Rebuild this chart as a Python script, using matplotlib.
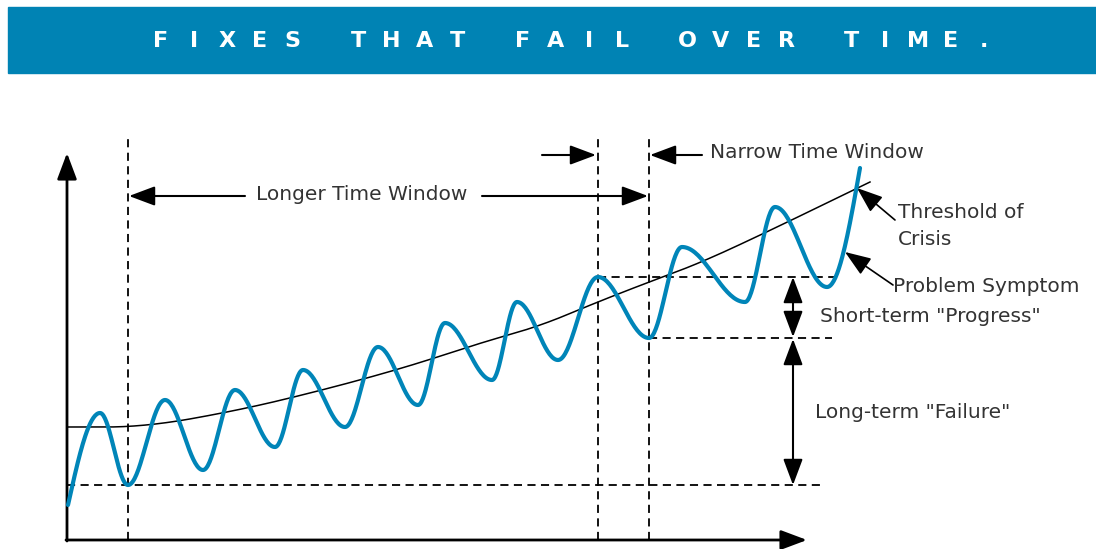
import numpy as np
import matplotlib
matplotlib.use("Agg")
import matplotlib.pyplot as plt
from matplotlib.patches import Rectangle

# ---------------- data (time, level) ----------------
title = "FIXES THAT FAIL OVER TIME."

# extrema of the "Problem Symptom" curve
wave_time = [1, 33, 61, 98, 136, 168, 208, 236, 278, 311, 351, 378, 425,
             450, 491, 531, 582, 615, 678, 708, 760, 793]
wave_level = [35, 127, 55, 140, 70, 150, 93, 170, 113, 193, 135, 217, 160,
              238, 180, 263, 202, 293, 238, 333, 253, 372]

# "Threshold of Crisis" curve
threshold_time = [0, 78, 173, 256, 340, 413, 473, 528, 582, 633, 700, 803]
threshold_level = [113, 113, 130, 150, 173, 197, 214, 237, 258, 277, 308, 358]

labels = {
    "longer": "Longer Time Window",
    "narrow": "Narrow Time Window",
    "threshold": "Threshold of\nCrisis",
    "symptom": "Problem Symptom",
    "progress": "Short-term \"Progress\"",
    "failure": "Long-term \"Failure\"",
}

BLUE = "#0085B8"
BANNER = "#0083B4"
TXT = "#333333"


def smooth_wave(t, y, n=40):
    xs, ys = [], []
    last = len(t) - 2
    for i in range(len(t) - 1):
        s = np.linspace(0, 1, n)
        if i == 0:
            w = np.sin(s * np.pi / 2)
        elif i == last:
            w = 1 - np.cos(s * np.pi / 2)
        else:
            w = (1 - np.cos(s * np.pi)) / 2
        xs.append(t[i] + (t[i + 1] - t[i]) * s)
        ys.append(y[i] + (y[i + 1] - y[i]) * w)
    return np.concatenate(xs), np.concatenate(ys)


def chaikin(x, y, iters=4):
    p = np.column_stack([x, y]).astype(float)
    for _ in range(iters):
        q = 0.75 * p[:-1] + 0.25 * p[1:]
        r = 0.25 * p[:-1] + 0.75 * p[1:]
        mid = np.empty((2 * len(q), 2))
        mid[0::2] = q
        mid[1::2] = r
        p = np.vstack([p[:1], mid, p[-1:]])
    return p[:, 0], p[:, 1]


fig = plt.figure(figsize=(10.96, 5.49), dpi=100)
ax = fig.add_axes([0, 0, 1, 1])
ax.set_xlim(-67, 1029)
ax.set_ylim(-9, 540)
ax.axis("off")

# banner + title
fig.patches.append(Rectangle((8 / 1096, 1 - 73 / 549), 1, 66 / 549,
                             transform=fig.transFigure, color=BANNER, zorder=0))
for i, ch in enumerate(title):
    fig.text((161 + 32.9 * i) / 1096, 1 - 41 / 549, ch, ha="center", va="center",
             color="white", fontsize=16, fontweight="heavy", family="DejaVu Sans")

head = "-|>,head_length=0.8,head_width=0.3"
head2 = "<|-|>,head_length=0.8,head_width=0.3"


def arrow(tail, tip, style=head, lw=1.5, ms=20):
    ax.annotate("", xy=tip, xytext=tail,
                arrowprops=dict(arrowstyle=style, mutation_scale=ms, lw=lw,
                                color="black", shrinkA=0, shrinkB=0))


# axes
arrow((0, -1), (0, 387), lw=2)
arrow((-1, 0), (740, 0), lw=2)

# curves
tx, ty = smooth_wave(wave_time, wave_level)
hx, hy = chaikin(threshold_time, threshold_level)
ax.plot(hx, hy, color="black", lw=1.1, zorder=3)
ax.plot(tx, ty, color=BLUE, lw=3, zorder=4, solid_capstyle="round")

# reference dashed lines
dash = dict(color="black", lw=1.3, ls=(0, (4.5, 3)), zorder=2)
t_first_trough, lvl_first_trough = wave_time[2], wave_level[2]
t_peak, lvl_peak = wave_time[15], wave_level[15]
t_trough, lvl_trough = wave_time[16], wave_level[16]
for tv in (t_first_trough, t_peak, t_trough):
    ax.plot([tv, tv], [0, 403], **dash)
ax.plot([0, 756], [lvl_first_trough] * 2, **dash)
ax.plot([t_peak, 771], [lvl_peak] * 2, **dash)
ax.plot([t_trough, 765], [lvl_trough] * 2, **dash)

# time windows
arrow((178, 344), (t_first_trough + 1, 344))
arrow((415, 344), (t_trough - 1, 344))
ax.text(295, 346, labels["longer"], ha="center", va="center", fontsize=14.5, color=TXT)
arrow((475, 385), (t_peak - 2, 385))
arrow((635, 385), (t_trough + 1, 385))
ax.text(643, 387, labels["narrow"], ha="left", va="center", fontsize=14.5, color=TXT)

# threshold / symptom callouts
arrow((828, 320), (790, 352), lw=1.2)
ax.text(831, 314, labels["threshold"], ha="left", va="center", fontsize=14.5,
        color=TXT, linespacing=1.5)
arrow((826, 255), (778, 288), lw=1.2)
ax.text(826, 253, labels["symptom"], ha="left", va="center", fontsize=14.5, color=TXT)

# progress / failure double arrows
arrow((726, lvl_trough + 1), (726, lvl_peak), style=head2)
ax.text(753, 223, labels["progress"], ha="left", va="center", fontsize=14.5, color=TXT)
arrow((726, lvl_first_trough), (726, lvl_trough - 1), style=head2)
ax.text(748, 128, labels["failure"], ha="left", va="center", fontsize=14.5, color=TXT)

fig.savefig("out.png", dpi=100)
